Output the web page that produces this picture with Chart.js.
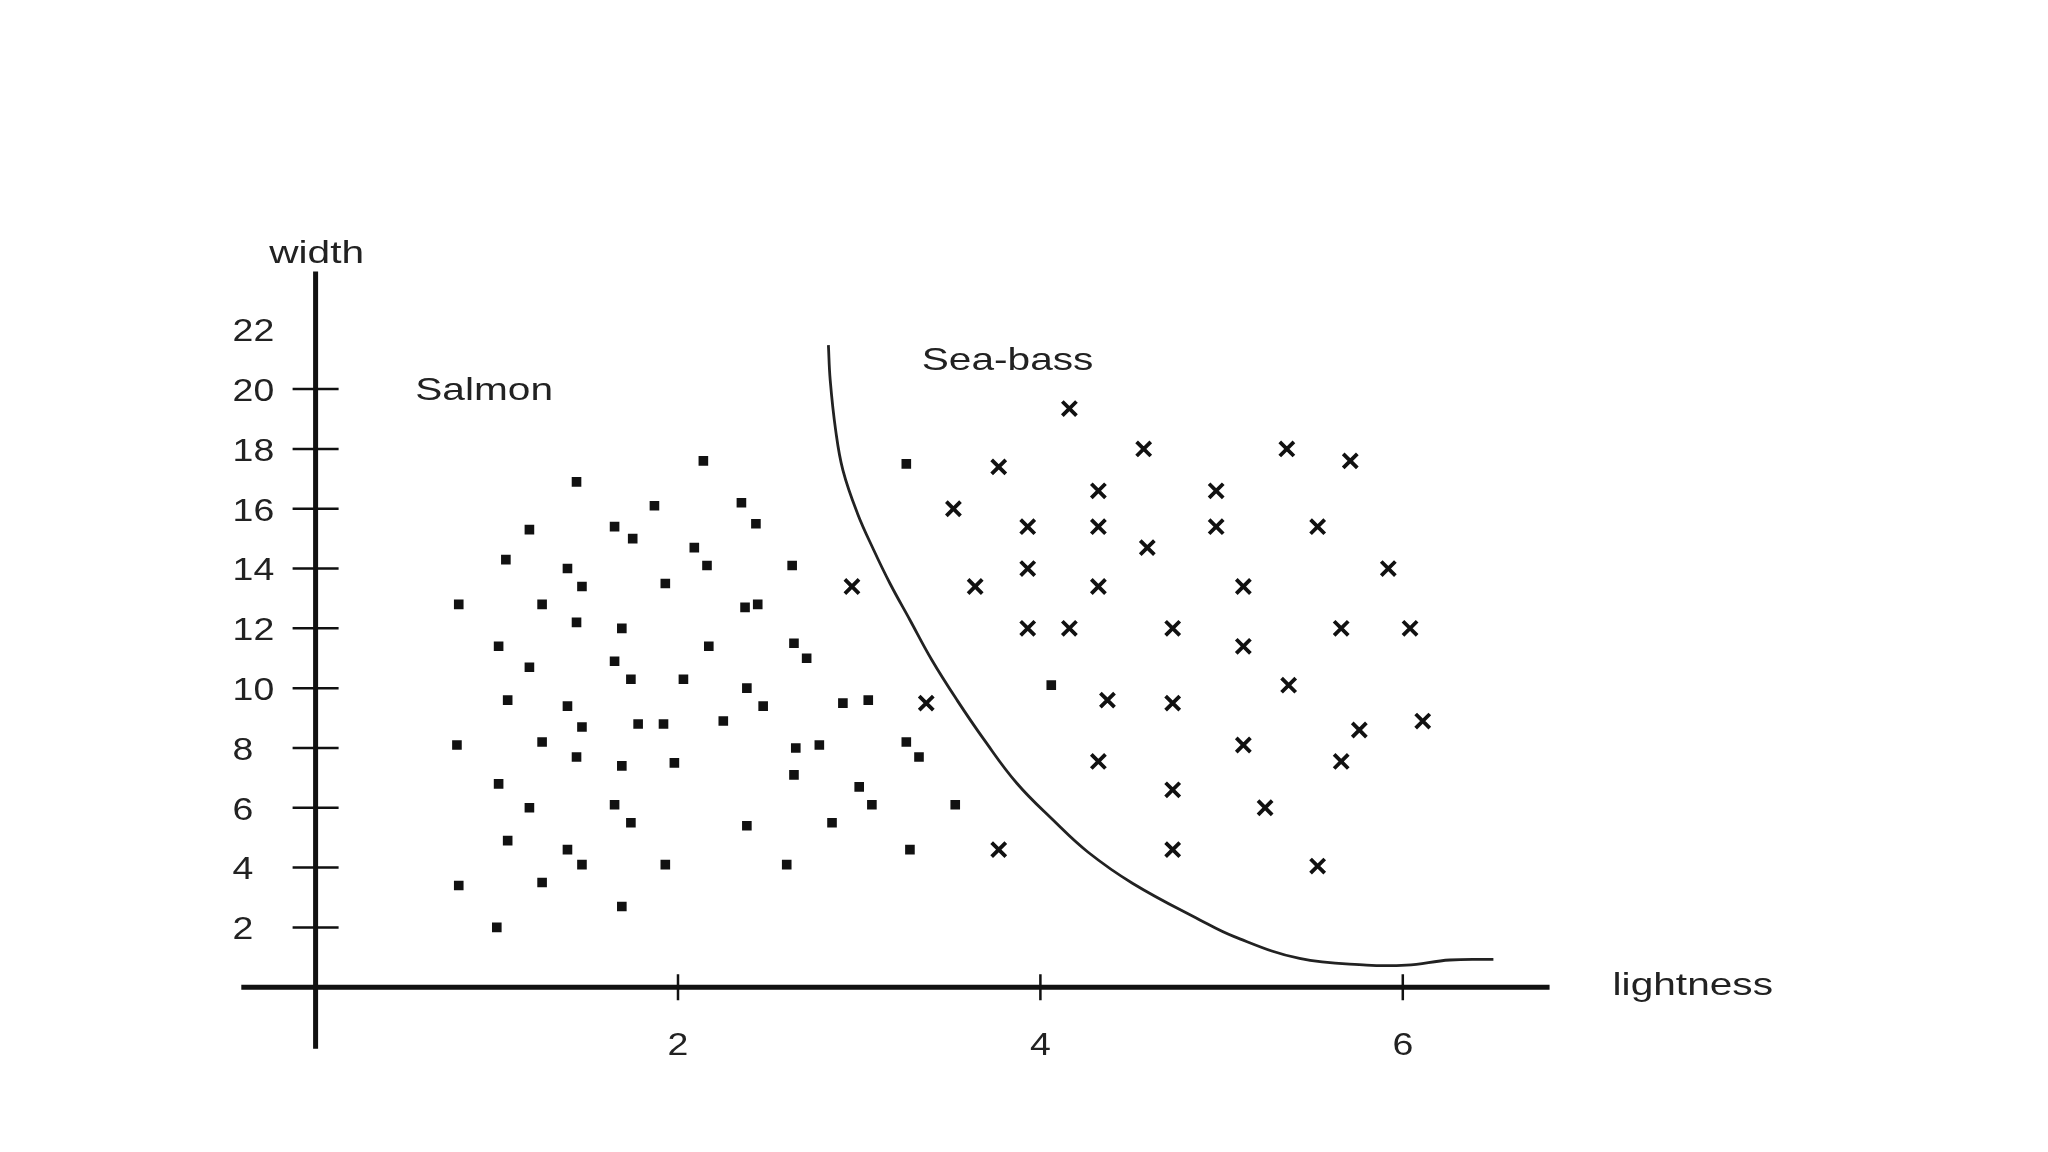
<!DOCTYPE html>
<html>
<head>
<meta charset="utf-8">
<title>Salmon / Sea-bass</title>
<script src="https://cdn.jsdelivr.net/npm/chart.js@4.4.0/dist/chart.umd.min.js"></script>
<style>
    html, body { margin: 0; padding: 0; background: #fff; }
    #wrap { position: relative; width: 2048px; height: 1152px; }
</style>
</head>
<body>
<div id="wrap"><canvas id="id_chart"></canvas></div>
<script>
var salmonX = [0.79, 0.78, 0.79, 1.01, 1.01, 1.00, 1.05, 1.06, 1.06, 1.18,
               1.18, 1.18, 1.25, 1.25, 1.25, 1.39, 1.39, 1.39, 1.44, 1.47,
               1.44, 1.47, 1.44, 1.47, 1.65, 1.75, 1.69, 1.65, 1.74, 1.69,
               1.65, 1.74, 1.69, 1.87, 1.93, 1.78, 1.92, 1.98, 1.93, 2.14,
               2.03, 2.09, 2.16, 2.17, 2.25, 2.35, 2.43, 2.37, 2.44, 2.38,
               2.47, 2.38, 2.63, 2.64, 2.71, 2.65, 2.78, 2.64, 2.60, 2.85,
               2.91, 3.05, 3.00, 3.07, 3.26, 3.26, 3.33, 3.28, 3.53, 4.06];
var salmonY = [12.8, 8.1, 3.4, 11.4, 6.8, 2.0, 14.3, 9.6, 4.9, 15.3,
               10.7, 6.0, 12.8, 8.2, 3.5, 14.0, 9.4, 4.6, 16.9, 13.4,
               12.2, 8.7, 7.7, 4.1, 15.4, 15.0, 12.0, 10.9, 10.3, 7.4,
               6.1, 5.5, 2.7, 16.1, 13.5, 8.8, 8.8, 7.5, 4.1, 17.6,
               10.3, 14.7, 14.1, 11.4, 8.9, 16.2, 15.5, 12.7, 12.8, 10.0,
               9.4, 5.4, 14.1, 11.5, 11.0, 8.0, 8.1, 7.1, 4.1, 5.5,
               9.5, 9.6, 6.7, 6.1, 17.5, 8.2, 7.7, 4.6, 6.1, 10.1];

var seabassX = [2.96, 3.37, 3.52, 3.64, 3.77, 3.77, 3.93, 3.93, 3.93, 4.16,
                4.16, 4.32, 4.32, 4.32, 4.37, 4.32, 4.57, 4.59, 4.73, 4.73,
                4.73, 4.73, 4.97, 4.97, 5.12, 5.12, 5.12, 5.24, 5.36, 5.37,
                5.53, 5.53, 5.66, 5.66, 5.71, 5.76, 5.92, 6.04, 6.11];
var seabassY = [13.4, 9.5, 16.0, 13.4, 17.4, 4.6, 15.4, 14.0, 12.0, 19.35,
                12.0, 16.6, 15.4, 13.4, 9.6, 7.55, 18.0, 14.7, 12.0, 9.5,
                6.6, 4.6, 16.6, 15.4, 13.4, 11.4, 8.1, 6.0, 18.0, 10.1,
                15.4, 4.05, 12.0, 7.55, 17.6, 8.6, 14.0, 12.0, 8.9];

// decision boundary
var boundaryX = [2.83, 2.84, 2.87, 2.91, 2.99, 3.08, 3.17, 3.28, 3.40, 3.54,
                 3.69, 3.87, 4.07, 4.26, 4.51, 4.88, 5.07, 5.43, 5.80, 6.02,
                 6.26, 6.50];
var boundaryY = [21.47, 20.30, 18.63, 17.29, 15.85, 14.62, 13.50, 12.28, 10.95, 9.60,
                 8.27, 6.82, 5.59, 4.53, 3.47, 2.25, 1.69, 0.96, 0.74, 0.74,
                 0.91, 0.93];

var xTickLabels = [2, 4, 6];
var yTickLabels = [2, 4, 6, 8, 10, 12, 14, 16, 18, 20, 22];
var yTickMarks = [2, 4, 6, 8, 10, 12, 14, 16, 18, 20];

// ----------------------------------------------------------------------
var INK = '#111';
var TEXT_INK = '#222';
var FONT = '32px "Liberation Sans", Arial, sans-serif';
var WORD_STRETCH = 1.27;   // the figure's lettering is wider than Arial
var DIGIT_STRETCH = 1.17;

// how far the drawn axis lines run, in data units
var X_AXIS_FROM = -0.41, X_AXIS_TO = 6.81;
var Y_AXIS_FROM = -2.06, Y_AXIS_TO = 23.93;

var CLASS_LABELS = [
    { text: 'Salmon',   x: 0.55,  y: 19.64 },
    { text: 'Sea-bass', x: 3.345, y: 20.64 }
];

var _toPoints = function( xs, ys ){
    var out = [], i;
    for( i = 0; i < xs.length; i++ ){
        out.push({ x: xs[i], y: ys[i] });
    }
    return out;
};

var _stretchText = function( ctx, text, x, y, align, stretch ){
    ctx.save();
    ctx.translate( x, y );
    ctx.scale( stretch, 1 );
    ctx.textAlign = align;
    ctx.fillText( text, 0, 0 );
    ctx.restore();
};

// the figure has crossing axes through the origin, drawn by hand here
var _crossAxesPlugin = {
    id: 'crossAxes',
    beforeDatasetsDraw: function( chart ){
        var ctx = chart.ctx;
        var sx = chart.scales.x, sy = chart.scales.y;
        var x0 = sx.getPixelForValue(0), y0 = sy.getPixelForValue(0);
        var i, p;

        ctx.save();
        ctx.strokeStyle = INK;
        ctx.lineWidth = 5;
        ctx.beginPath();
        ctx.moveTo( sx.getPixelForValue(X_AXIS_FROM), y0 );
        ctx.lineTo( sx.getPixelForValue(X_AXIS_TO), y0 );
        ctx.moveTo( x0, sy.getPixelForValue(Y_AXIS_FROM) );
        ctx.lineTo( x0, sy.getPixelForValue(Y_AXIS_TO) );
        ctx.stroke();

        ctx.lineWidth = 2.5;
        ctx.beginPath();
        for( i = 0; i < yTickMarks.length; i++ ){
            p = sy.getPixelForValue( yTickMarks[i] );
            ctx.moveTo( x0 - 23, p );
            ctx.lineTo( x0 + 23, p );
        }
        for( i = 0; i < xTickLabels.length; i++ ){
            p = sx.getPixelForValue( xTickLabels[i] );
            ctx.moveTo( p, y0 - 13 );
            ctx.lineTo( p, y0 + 13 );
        }
        ctx.stroke();

        ctx.fillStyle = TEXT_INK;
        ctx.font = FONT;
        ctx.textBaseline = 'middle';
        for( i = 0; i < yTickLabels.length; i++ ){
            _stretchText( ctx, String(yTickLabels[i]), x0 - 83,
                sy.getPixelForValue( yTickLabels[i] ) + 3, 'left', DIGIT_STRETCH );
        }
        for( i = 0; i < xTickLabels.length; i++ ){
            _stretchText( ctx, String(xTickLabels[i]),
                sx.getPixelForValue( xTickLabels[i] ), y0 + 59, 'center', DIGIT_STRETCH );
        }

        ctx.textBaseline = 'alphabetic';
        _stretchText( ctx, 'width', x0 + 1, sy.getPixelForValue(Y_AXIS_TO) - 9, 'center', WORD_STRETCH );
        _stretchText( ctx, 'lightness', sx.getPixelForValue(X_AXIS_TO) + 63, y0 + 8, 'left', WORD_STRETCH );
        for( i = 0; i < CLASS_LABELS.length; i++ ){
            _stretchText( ctx, CLASS_LABELS[i].text,
                sx.getPixelForValue( CLASS_LABELS[i].x ),
                sy.getPixelForValue( CLASS_LABELS[i].y ), 'left', WORD_STRETCH );
        }
        ctx.restore();
    }
};

window.onload = function(){
    var ctx = document.getElementById('id_chart').getContext('2d');
    new Chart( ctx, {
        type: 'scatter',
        data: {
            datasets: [
                {
                    label: 'Salmon',
                    data: _toPoints( salmonX, salmonY ),
                    pointStyle: 'rect',
                    pointRadius: 6.8,
                    borderWidth: 0,
                    backgroundColor: INK,
                    borderColor: INK
                },
                {
                    label: 'Sea-bass',
                    data: _toPoints( seabassX, seabassY ),
                    pointStyle: 'crossRot',
                    pointRadius: 10,
                    borderWidth: 3.8,
                    borderColor: INK,
                    backgroundColor: INK
                },
                {
                    type: 'line',
                    label: 'boundary',
                    data: _toPoints( boundaryX, boundaryY ),
                    showLine: true,
                    pointRadius: 0,
                    borderWidth: 2.8,
                    borderColor: '#222',
                    fill: false,
                    tension: 0.4
                }
            ]
        },
        options: {
            responsive: true,
            maintainAspectRatio: false,
            animation: false,
            layout: {
                padding: { left: 225, right: 464, top: 269.5, bottom: 102 }
            },
            scales: {
                x: { type: 'linear', min: -0.5, max: 7, display: false },
                y: { type: 'linear', min: -2.1, max: 24, display: false }
            },
            plugins: {
                legend: { display: false },
                tooltip: { enabled: false }
            }
        },
        plugins: [ _crossAxesPlugin ]
    });
};
</script>
</body>
</html>
